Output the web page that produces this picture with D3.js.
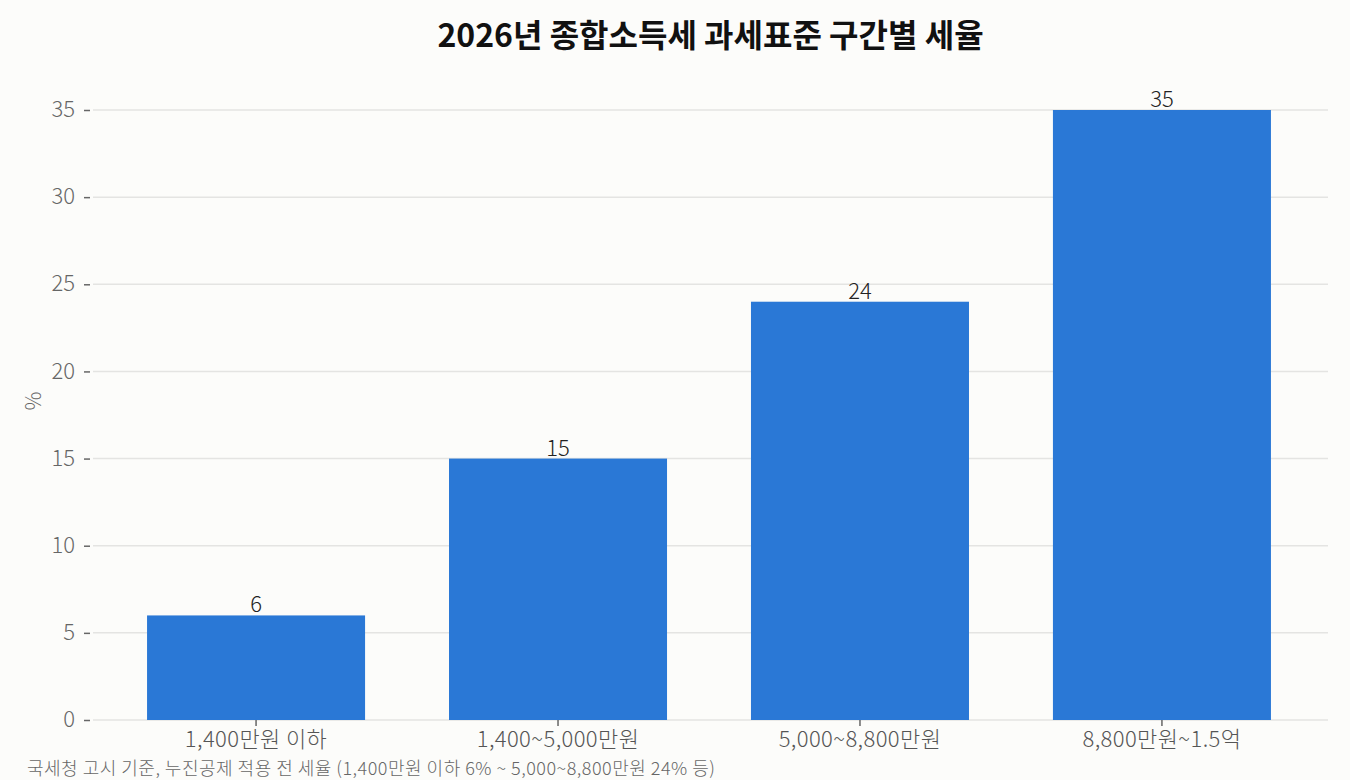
<!DOCTYPE html>
<html>
<head>
<meta charset="utf-8">
<script src="https://cdn.jsdelivr.net/npm/d3@7"></script>
<style>
  body { margin: 0; background: #fcfcfa; font-family: "Noto Sans CJK KR", "Noto Sans", sans-serif; }
  svg { display: block; }
  text { font-family: "Noto Sans CJK KR", "Noto Sans", sans-serif; }
</style>
</head>
<body>
<div id="chart"></div>
<script>
// tax bands and rates
const brackets = ["1,400만원 이하", "1,400~5,000만원", "5,000~8,800만원", "8,800만원~1.5억"];
const rates = [6, 15, 24, 35];
const yTicks = [0, 5, 10, 15, 20, 25, 30, 35];

const width = 1350, height = 780;
const margin = {top: 110, right: 22, bottom: 60, left: 93};
const lightWeight = 300;

const svg = d3.select("#chart").append("svg")
  .attr("width", width)
  .attr("height", height);

svg.append("rect").attr("width", width).attr("height", height).attr("fill", "#fcfcfa");

const x = d3.scaleBand()
  .domain(brackets)
  .range([margin.left, 1325])
  .paddingInner(0.278)
  .paddingOuter(0.179);

const y = d3.scaleLinear()
  .domain([0, 35])
  .range([height - margin.bottom, margin.top]);

// gridlines
svg.append("g")
  .selectAll("line")
  .data(yTicks)
  .enter().append("line")
  .attr("x1", margin.left)
  .attr("x2", width - margin.right)
  .attr("y1", d => y(d))
  .attr("y2", d => y(d))
  .attr("stroke", "#e4e4e2")
  .attr("stroke-width", 1.5);

// y axis
const yAxis = svg.append("g")
  .attr("transform", "translate(" + (margin.left - 3) + ",0)")
  .call(d3.axisLeft(y).tickValues(yTicks).tickSize(6).tickPadding(9));
yAxis.select(".domain").remove();
yAxis.selectAll(".tick line").attr("stroke", "#666").attr("stroke-width", 1.5);
yAxis.selectAll(".tick text")
  .attr("fill", "#666")
  .attr("dy", "0.3em")
  .style("font-size", "22px")
  .style("font-weight", lightWeight);

// bars
svg.append("g")
  .selectAll("rect")
  .data(rates)
  .enter().append("rect")
  .attr("x", (d, i) => x(brackets[i]))
  .attr("y", d => y(d))
  .attr("width", x.bandwidth())
  .attr("height", d => y(0) - y(d))
  .attr("fill", "#2a78d6");

// value labels
svg.append("g")
  .selectAll("text")
  .data(rates)
  .enter().append("text")
  .attr("x", (d, i) => x(brackets[i]) + x.bandwidth() / 2)
  .attr("y", d => y(d) - 3)
  .attr("text-anchor", "middle")
  .attr("fill", "#222")
  .style("font-size", "22px")
  .style("font-weight", lightWeight)
  .text(d => d);

// x axis
const xAxis = svg.append("g")
  .attr("transform", "translate(0," + y(0) + ")")
  .call(d3.axisBottom(x).tickSize(6).tickPadding(4));
xAxis.select(".domain").remove();
xAxis.selectAll(".tick line").attr("stroke", "#666").attr("stroke-width", 1.5);
xAxis.selectAll(".tick text")
  .attr("fill", "#555")
  .attr("y", 27)
  .attr("dy", 0)
  .style("font-size", "22px")
  .style("letter-spacing", "0.4px")
  .style("font-weight", lightWeight);

// y label
svg.append("text")
  .attr("transform", "translate(41,401) rotate(-90)")
  .attr("text-anchor", "middle")
  .attr("fill", "#666")
  .style("font-size", "21px")
  .style("font-weight", lightWeight)
  .text("%");

// title
svg.append("text")
  .attr("x", (margin.left + width - margin.right) / 2)
  .attr("y", 47)
  .attr("text-anchor", "middle")
  .attr("fill", "#111")
  .style("font-size", "32px")
  .style("font-weight", "bold")
  .text("2026년 종합소득세 과세표준 구간별 세율");

// footnote
svg.append("text")
  .attr("x", 27)
  .attr("y", 775)
  .attr("fill", "#666")
  .style("font-size", "18px")
  .style("letter-spacing", "0.5px")
  .style("font-weight", lightWeight)
  .text("국세청 고시 기준, 누진공제 적용 전 세율 (1,400만원 이하 6% ~ 5,000~8,800만원 24% 등)");
</script>
</body>
</html>
